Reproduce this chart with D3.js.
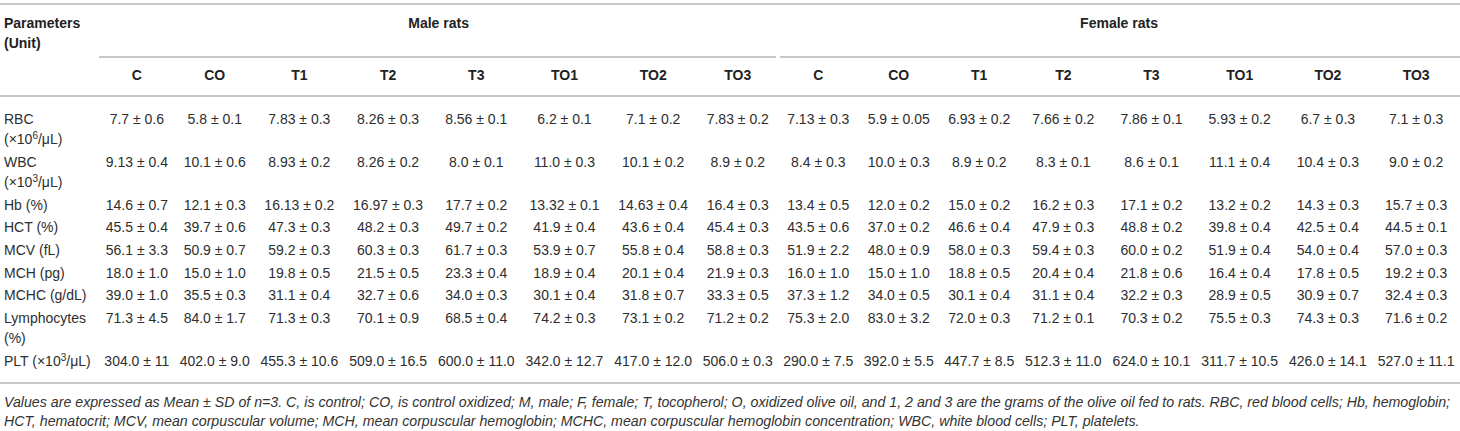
<!DOCTYPE html>
<html>
<head>
<meta charset="utf-8">
<script src="https://cdn.jsdelivr.net/npm/d3@7"></script>
<style>
  body { margin: 0; background: #fff; font-family: "Liberation Sans", Arial, sans-serif; color: #2e2e2e; }
  table { border-collapse: collapse; margin-top: 3px; width: 1460px; border-top: 2px solid #c6c6c6; border-bottom: 2px solid #c6c6c6;
          white-space: nowrap; font-size: 14px; line-height: 20px; }
  th { font-weight: bold; color: #222; }
  th, td { padding: 0 3px; text-align: center; vertical-align: top; }
  th.param, td.param { text-align: left; padding-left: 4px; }
  tr.grp th { padding-top: 8px; padding-bottom: 5px; position: relative; }
  tr.grp th.g::after { content: ""; position: absolute; bottom: 0; border-bottom: 2px solid #c6c6c6; }
  tr.grp th.g0::after { left: 0; right: 2px; }
  tr.grp th.g1::after { left: 2px; right: 0; }
  tr.sub th { padding-top: 7px; padding-bottom: 10px; border-bottom: 2px solid #c6c6c6; }
  tbody td { padding-top: 1.35px; padding-bottom: 1.35px; }
  tbody tr:first-child td { padding-top: 12.3px; }
  tbody tr:last-child td { padding-bottom: 11.5px; }
  sup { font-size: 10px; line-height: 0; vertical-align: 5px; }
  .note { margin: 9px 0 0 4px; font-style: italic; font-size: 14.2px; line-height: 18.5px; color: #333; white-space: nowrap; }
</style>
</head>
<body>
<div id="chart"></div>
<script>
// groups and treatments
const groups = ["Male rats", "Female rats"];
const treatments = ["C", "CO", "T1", "T2", "T3", "TO1", "TO2", "TO3"];

// parameter labels (one entry per printed line)
const paramLabels = [
  ["RBC", "(×10<sup>6</sup>/μL)"],
  ["WBC", "(×10<sup>3</sup>/μL)"],
  ["Hb (%)"],
  ["HCT (%)"],
  ["MCV (fL)"],
  ["MCH (pg)"],
  ["MCHC (g/dL)"],
  ["Lymphocytes", "(%)"],
  ["PLT (×10<sup>3</sup>/μL)"]
];

// mean ± SD, male C..TO3 then female C..TO3
const rbc = ["7.7 ± 0.6", "5.8 ± 0.1", "7.83 ± 0.3", "8.26 ± 0.3", "8.56 ± 0.1", "6.2 ± 0.1", "7.1 ± 0.2", "7.83 ± 0.2",
             "7.13 ± 0.3", "5.9 ± 0.05", "6.93 ± 0.2", "7.66 ± 0.2", "7.86 ± 0.1", "5.93 ± 0.2", "6.7 ± 0.3", "7.1 ± 0.3"];
const wbc = ["9.13 ± 0.4", "10.1 ± 0.6", "8.93 ± 0.2", "8.26 ± 0.2", "8.0 ± 0.1", "11.0 ± 0.3", "10.1 ± 0.2", "8.9 ± 0.2",
             "8.4 ± 0.3", "10.0 ± 0.3", "8.9 ± 0.2", "8.3 ± 0.1", "8.6 ± 0.1", "11.1 ± 0.4", "10.4 ± 0.3", "9.0 ± 0.2"];
const hb = ["14.6 ± 0.7", "12.1 ± 0.3", "16.13 ± 0.2", "16.97 ± 0.3", "17.7 ± 0.2", "13.32 ± 0.1", "14.63 ± 0.4", "16.4 ± 0.3",
            "13.4 ± 0.5", "12.0 ± 0.2", "15.0 ± 0.2", "16.2 ± 0.3", "17.1 ± 0.2", "13.2 ± 0.2", "14.3 ± 0.3", "15.7 ± 0.3"];
const hct = ["45.5 ± 0.4", "39.7 ± 0.6", "47.3 ± 0.3", "48.2 ± 0.3", "49.7 ± 0.2", "41.9 ± 0.4", "43.6 ± 0.4", "45.4 ± 0.3",
             "43.5 ± 0.6", "37.0 ± 0.2", "46.6 ± 0.4", "47.9 ± 0.3", "48.8 ± 0.2", "39.8 ± 0.4", "42.5 ± 0.4", "44.5 ± 0.1"];
const mcv = ["56.1 ± 3.3", "50.9 ± 0.7", "59.2 ± 0.3", "60.3 ± 0.3", "61.7 ± 0.3", "53.9 ± 0.7", "55.8 ± 0.4", "58.8 ± 0.3",
             "51.9 ± 2.2", "48.0 ± 0.9", "58.0 ± 0.3", "59.4 ± 0.3", "60.0 ± 0.2", "51.9 ± 0.4", "54.0 ± 0.4", "57.0 ± 0.3"];
const mch = ["18.0 ± 1.0", "15.0 ± 1.0", "19.8 ± 0.5", "21.5 ± 0.5", "23.3 ± 0.4", "18.9 ± 0.4", "20.1 ± 0.4", "21.9 ± 0.3",
             "16.0 ± 1.0", "15.0 ± 1.0", "18.8 ± 0.5", "20.4 ± 0.4", "21.8 ± 0.6", "16.4 ± 0.4", "17.8 ± 0.5", "19.2 ± 0.3"];
const mchc = ["39.0 ± 1.0", "35.5 ± 0.3", "31.1 ± 0.4", "32.7 ± 0.6", "34.0 ± 0.3", "30.1 ± 0.4", "31.8 ± 0.7", "33.3 ± 0.5",
              "37.3 ± 1.2", "34.0 ± 0.5", "30.1 ± 0.4", "31.1 ± 0.4", "32.2 ± 0.3", "28.9 ± 0.5", "30.9 ± 0.7", "32.4 ± 0.3"];
const lymph = ["71.3 ± 4.5", "84.0 ± 1.7", "71.3 ± 0.3", "70.1 ± 0.9", "68.5 ± 0.4", "74.2 ± 0.3", "73.1 ± 0.2", "71.2 ± 0.2",
               "75.3 ± 2.0", "83.0 ± 3.2", "72.0 ± 0.3", "71.2 ± 0.1", "70.3 ± 0.2", "75.5 ± 0.3", "74.3 ± 0.3", "71.6 ± 0.2"];
const plt = ["304.0 ± 11", "402.0 ± 9.0", "455.3 ± 10.6", "509.0 ± 16.5", "600.0 ± 11.0", "342.0 ± 12.7", "417.0 ± 12.0", "506.0 ± 0.3",
             "290.0 ± 7.5", "392.0 ± 5.5", "447.7 ± 8.5", "512.3 ± 11.0", "624.0 ± 10.1", "311.7 ± 10.5", "426.0 ± 14.1", "527.0 ± 11.1"];

const footnote = [
  "Values are expressed as Mean ± SD of n=3. C, is control; CO, is control oxidized; M, male; F, female; T, tocopherol; O, oxidized olive oil, and 1, 2 and 3 are the grams of the olive oil fed to rats. RBC, red blood cells; Hb, hemoglobin;",
  "HCT, hematocrit; MCV, mean corpuscular volume; MCH, mean corpuscular hemoglobin; MCHC, mean corpuscular hemoglobin concentration; WBC, white blood cells; PLT, platelets."
];

const rows = [rbc, wbc, hb, hct, mcv, mch, mchc, lymph, plt].map((vals, i) => ({ label: paramLabels[i], vals }));

const wrap = d3.select("#chart");
const table = wrap.append("table");
const thead = table.append("thead");

// group header row
const gr = thead.append("tr").attr("class", "grp");
gr.append("th").attr("class", "param").html("Parameters<br>(Unit)");
gr.selectAll("th.g")
  .data(groups)
  .enter()
  .append("th")
  .attr("class", (d, i) => "g g" + i)
  .attr("colspan", treatments.length)
  .text(d => d);

// treatment header row
const sr = thead.append("tr").attr("class", "sub");
sr.append("th");
sr.selectAll("th.t")
  .data(groups.flatMap(() => treatments))
  .enter()
  .append("th")
  .attr("class", "t")
  .text(d => d);

// body
const tr = table.append("tbody")
  .selectAll("tr")
  .data(rows)
  .enter()
  .append("tr");

tr.append("td")
  .attr("class", "param")
  .html(d => d.label.join("<br>"));

tr.selectAll("td.v")
  .data(d => d.vals)
  .enter()
  .append("td")
  .attr("class", "v")
  .text(d => d);

// footnote
wrap.append("div")
  .attr("class", "note")
  .selectAll("div")
  .data(footnote)
  .enter()
  .append("div")
  .text(d => d);
</script>
</body>
</html>
